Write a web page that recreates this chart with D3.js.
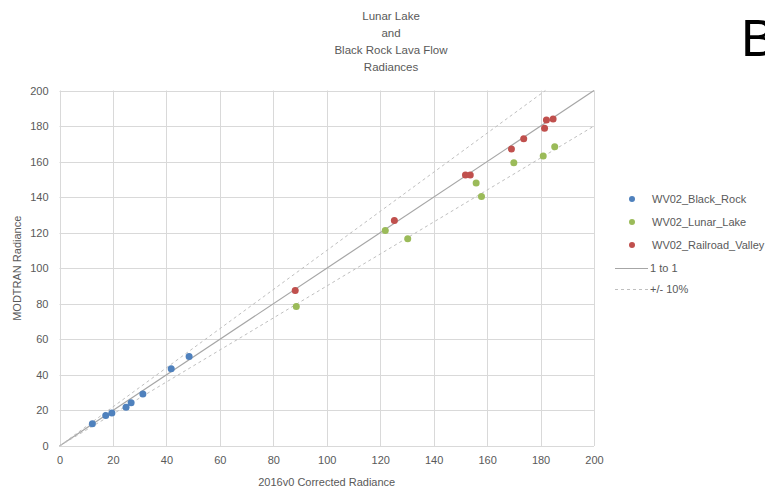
<!doctype html>
<html>

<head>
    <meta charset="utf-8">
    <script src="https://cdnjs.cloudflare.com/ajax/libs/d3/7.8.5/d3.min.js" charset="utf-8"></script>
    <style>
        body { margin: 0; background: #fff; }
        text { font-family: "Liberation Sans", Arial, sans-serif; fill: #595959; }
    </style>
</head>

<body>
    <div id="svg-wrapper"></div>

    <script>
        var w = 765;
        var h = 490;

        // plot area (don't call these left/top - window.top is taken)
        var plotLeft = 59.5, plotRight = 594, plotTop = 90.5, plotBottom = 446;

        var titleLines = ["Lunar Lake", "and", "Black Rock Lava Flow", "Radiances"];
        var xTicks = [0, 20, 40, 60, 80, 100, 120, 140, 160, 180, 200];
        var yTicks = [0, 20, 40, 60, 80, 100, 120, 140, 160, 180, 200];

        var blackRockX = [12.3, 17.3, 19.6, 24.9, 26.8, 31.2, 41.8, 48.5];
        var blackRockY = [12.5, 17.1, 18.6, 21.8, 24.3, 29.3, 43.4, 50.4];

        var lunarLakeX = [88.6, 121.9, 130.3, 155.9, 157.9, 170.0, 181.0, 185.3];
        var lunarLakeY = [78.5, 121.2, 116.6, 147.9, 140.3, 159.3, 163.2, 168.4];

        var railroadX = [88.2, 125.3, 151.9, 153.7, 169.1, 173.7, 181.5, 182.2, 184.7];
        var railroadY = [87.5, 126.9, 152.4, 152.4, 167.1, 172.9, 178.8, 183.4, 184.0];

        var seriesNames = ["WV02_Black_Rock", "WV02_Lunar_Lake", "WV02_Railroad_Valley"];
        var seriesColors = ["#4F81BD", "#9BBB59", "#C0504D"];
        var lineNames = ["1 to 1", "+/- 10%"];

        var series = [
            { name: seriesNames[0], color: seriesColors[0], xs: blackRockX, ys: blackRockY },
            { name: seriesNames[1], color: seriesColors[1], xs: lunarLakeX, ys: lunarLakeY },
            { name: seriesNames[2], color: seriesColors[2], xs: railroadX, ys: railroadY }
        ];

        var xScale = d3.scaleLinear().domain([0, 200]).range([plotLeft, plotRight]);
        var yScale = d3.scaleLinear().domain([0, 200]).range([plotBottom, plotTop]);

        var svg = d3.select("#svg-wrapper")
            .append("svg")
            .attr("width", w)
            .attr("height", h);

        svg.append("rect").attr("width", w).attr("height", h).attr("fill", "#fff");

        // gridlines
        svg.append("g").selectAll("line")
            .data(xTicks)
            .enter()
            .append("line")
            .attr("x1", function (d) { return Math.round(xScale(d)) + 0.5; })
            .attr("x2", function (d) { return Math.round(xScale(d)) + 0.5; })
            .attr("y1", plotTop)
            .attr("y2", plotBottom)
            .attr("stroke", "#d9d9d9");

        svg.append("g").selectAll("line")
            .data(yTicks)
            .enter()
            .append("line")
            .attr("x1", plotLeft)
            .attr("x2", plotRight)
            .attr("y1", function (d) { return Math.round(yScale(d)) + 0.5; })
            .attr("y2", function (d) { return Math.round(yScale(d)) + 0.5; })
            .attr("stroke", "#d9d9d9");

        // axes (labels only, Excel style)
        var xAxis = svg.append("g")
            .attr("transform", "translate(0," + (plotBottom + 10) + ")")
            .call(d3.axisBottom(xScale).tickValues(xTicks).tickSize(0).tickPadding(0));
        var yAxis = svg.append("g")
            .attr("transform", "translate(" + (plotLeft - 11) + ",0)")
            .call(d3.axisLeft(yScale).tickValues(yTicks).tickSize(0).tickPadding(0));
        [xAxis, yAxis].forEach(function (a) {
            a.select(".domain").remove();
            a.selectAll("text").style("font-size", "11px").style("fill", "#595959")
                .style("font-family", "\"Liberation Sans\", Arial, sans-serif");
        });

        // reference lines
        var line = d3.line()
            .x(function (d) { return xScale(d[0]); })
            .y(function (d) { return yScale(d[1]); });

        svg.append("path")
            .attr("d", line([[0, 0], [200, 200]]))
            .attr("fill", "none")
            .attr("stroke", "#a6a6a6")
            .attr("stroke-width", 1.2);
        svg.append("path")
            .attr("d", line([[0, 0], [200 / 1.1, 200]]))
            .attr("fill", "none")
            .attr("stroke", "#bfbfbf")
            .attr("stroke-dasharray", "3,3");
        svg.append("path")
            .attr("d", line([[0, 0], [200, 180]]))
            .attr("fill", "none")
            .attr("stroke", "#bfbfbf")
            .attr("stroke-dasharray", "3,3");

        // points
        series.forEach(function (s) {
            svg.append("g").selectAll("circle")
                .data(s.xs)
                .enter()
                .append("circle")
                .attr("cx", function (d) { return xScale(d); })
                .attr("cy", function (d, i) { return yScale(s.ys[i]); })
                .attr("r", 3.5)
                .attr("fill", s.color);
        });

        // titles
        svg.append("text")
            .attr("text-anchor", "middle")
            .attr("transform", "translate(391,0)")
            .style("font-size", "11.5px")
            .selectAll("tspan")
            .data(titleLines)
            .enter()
            .append("tspan")
            .attr("x", 0)
            .attr("y", function (d, i) { return 20 + i * 17; })
            .text(function (d) { return d; });

        svg.append("text")
            .attr("text-anchor", "middle")
            .attr("transform", "translate(21," + ((plotTop + plotBottom) / 2) + ")rotate(-90)")
            .style("font-size", "11px")
            .text("MODTRAN Radiance");

        svg.append("text")
            .attr("text-anchor", "middle")
            .attr("x", (plotLeft + plotRight) / 2)
            .attr("y", 486)
            .style("font-size", "11px")
            .text("2016v0 Corrected Radiance");

        svg.append("text")
            .attr("x", 741)
            .attr("y", 56)
            .style("font-size", "52px")
            .style("fill", "#000")
            .text("B");

        // legend
        var legend = svg.append("g");
        var legendY = [199, 222, 245, 268, 289];
        series.forEach(function (s, i) {
            legend.append("circle")
                .attr("cx", 632)
                .attr("cy", legendY[i])
                .attr("r", 3)
                .attr("fill", s.color);
            legend.append("text")
                .attr("x", 652)
                .attr("y", legendY[i] + 4)
                .style("font-size", "11px")
                .text(s.name);
        });
        lineNames.forEach(function (n, i) {
            var y = legendY[3 + i] + 0.5;
            legend.append("line")
                .attr("x1", 615).attr("x2", 648)
                .attr("y1", y).attr("y2", y)
                .attr("stroke", i == 0 ? "#a6a6a6" : "#bfbfbf")
                .attr("stroke-width", i == 0 ? 1.2 : 1)
                .attr("stroke-dasharray", i == 0 ? null : "3,3");
            legend.append("text")
                .attr("x", 650)
                .attr("y", y + 3.5)
                .style("font-size", "11px")
                .text(n);
        });
    </script>
</body>

</html>
